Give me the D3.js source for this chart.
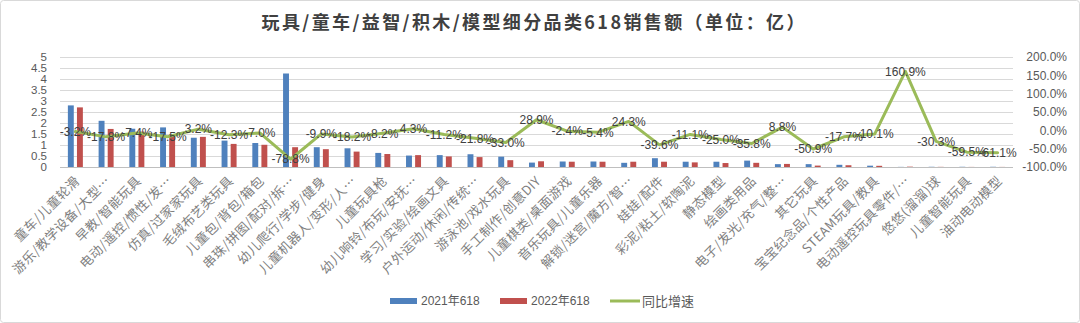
<!DOCTYPE html>
<html>
<head>
<meta charset="utf-8">
<script src="https://cdn.jsdelivr.net/npm/d3@7"></script>
<style>
  html, body { margin: 0; padding: 0; background: #fff; }
  svg { display: block; font-family: "Liberation Sans", "Noto Sans CJK SC", sans-serif; }
</style>
</head>
<body>
<svg id="chart" width="1080" height="323"></svg>
<script>
// Toy sub-category sales during 618 (unit: 100 million)
const categories = [
  "童车/儿童轮滑", "游乐/教学设备/大型…", "早教/智能玩具", "电动/遥控/惯性/发…",
  "仿真/过家家玩具", "毛绒布艺类玩具", "儿童包/背包/箱包", "串珠/拼图/配对/拆…",
  "幼儿爬行/学步/健身", "儿童机器人/变形/人…", "儿童玩具枪", "幼儿响铃/布玩/安抚…",
  "学习/实验/绘画文具", "户外运动/休闲/传统…", "游泳池/戏水玩具", "手工制作/创意DIY",
  "儿童棋类/桌面游戏", "音乐玩具/儿童乐器", "解锁/迷宫/魔方/智…", "娃娃/配件",
  "彩泥/粘土/软陶泥", "静态模型", "绘画类用品", "电子/发光/充气/整…",
  "其它玩具", "宝宝纪念品/个性产品", "STEAM玩具/教具", "电动遥控玩具零件/…",
  "悠悠(溜溜)球", "儿童智能玩具", "油动电动模型"
];
const sales2021 = [
  2.80, 2.10, 1.74, 1.80, 1.33, 1.20, 1.09, 4.25, 0.90, 0.85, 0.64, 0.52, 0.54, 0.58, 0.47, 0.20,
  0.25, 0.25, 0.19, 0.40, 0.24, 0.24, 0.29, 0.13, 0.13, 0.10, 0.06, 0.006, 0.010, 0.010, 0.010
];
const sales2022 = [
  2.71, 1.73, 1.61, 1.49, 1.37, 1.05, 1.01, 0.90, 0.81, 0.70, 0.59, 0.54, 0.48, 0.45, 0.31, 0.26,
  0.24, 0.24, 0.24, 0.24, 0.21, 0.18, 0.19, 0.14, 0.064, 0.08, 0.054, 0.016, 0.007, 0.004, 0.004
];
// Year-over-year growth (fraction)
const growth = [
  -0.032, -0.178, -0.074, -0.175, 0.032, -0.123, -0.070, -0.788, -0.099, -0.182, -0.082, 0.043,
  -0.112, -0.218, -0.330, 0.289, -0.024, -0.054, 0.243, -0.396, -0.111, -0.250, -0.358, 0.088,
  -0.509, -0.177, -0.101, 1.609, -0.303, -0.595, -0.611
];
const salesTicks = [0, 0.5, 1, 1.5, 2, 2.5, 3, 3.5, 4, 4.5, 5];
const growthTicks = [-1, -0.5, 0, 0.5, 1, 1.5, 2];
const seriesNames = ["2021年618", "2022年618", "同比增速"];
const seriesColors = ["#4F81BD", "#C0504D", "#9BBB59"];

const svg = d3.select("#chart");
const W = 1080, H = 323;
const plot = { left: 60, right: 1013, top: 57, bottom: 167 };

// outer frame
svg.append("rect")
  .attr("x", 0.5).attr("y", 0.5).attr("width", W - 1).attr("height", H - 1)
  .attr("rx", 3).attr("fill", "#fff").attr("stroke", "#d9d9d9");

// title
svg.append("text")
  .attr("x", 533).attr("y", 29)
  .attr("text-anchor", "middle")
  .attr("font-size", 18).attr("font-weight", "bold")
  .attr("fill", "#404040")
  .attr("font-family", "'Noto Sans CJK SC', sans-serif")
  .attr("textLength", 543).attr("lengthAdjust", "spacing")
  .text("玩具/童车/益智/积木/模型细分品类618销售额（单位：亿）");

const x = d3.scaleBand().domain(categories).range([plot.left, plot.right]);
const y = d3.scaleLinear().domain([0, 5]).range([plot.bottom, plot.top]);
const y2 = d3.scaleLinear().domain([-1, 2]).range([plot.bottom, plot.top]);
const groupW = 15;
const xSub = d3.scaleBand().domain(seriesNames.slice(0, 2)).range([0, groupW]).paddingInner(0.35);

// gridlines
svg.append("g").selectAll("line").data(salesTicks).join("line")
  .attr("x1", plot.left).attr("x2", plot.right)
  .attr("y1", d => Math.round(y(d)) + 0.5).attr("y2", d => Math.round(y(d)) + 0.5)
  .attr("stroke", (d, i) => i === 0 ? "#bfbfbf" : "#d9d9d9").attr("stroke-width", 1);

// left axis
const leftAxis = svg.append("g")
  .attr("transform", `translate(${plot.left},0)`)
  .call(d3.axisLeft(y).tickValues(salesTicks).tickSize(0).tickPadding(13).tickFormat(d3.format("~g")));
leftAxis.select(".domain").remove();
leftAxis.selectAll("text").attr("font-size", 11.5).attr("fill", "#595959")
  .attr("font-family", "'Liberation Sans', sans-serif");

// right axis
const rightAxis = svg.append("g")
  .attr("transform", `translate(${plot.right},0)`)
  .call(d3.axisRight(y2).tickValues(growthTicks).tickSize(0).tickPadding(54)
    .tickFormat(d => (d * 100).toFixed(1).replace("−", "-") + "%"));
rightAxis.select(".domain").remove();
rightAxis.selectAll("text").attr("font-size", 12).attr("fill", "#595959")
  .attr("text-anchor", "end")
  .attr("font-family", "'Liberation Sans', sans-serif");

// bars
const rows = categories.map((c, i) => ({ c, v: [sales2021[i], sales2022[i]], g: growth[i] }));
const groups = svg.append("g").selectAll("g").data(rows).join("g")
  .attr("transform", d => `translate(${x(d.c) + (x.bandwidth() - groupW) / 2},0)`);
groups.selectAll("rect").data(d => d.v.map((v, k) => ({ k, v }))).join("rect")
  .attr("x", d => xSub(seriesNames[d.k]))
  .attr("width", xSub.bandwidth())
  .attr("y", d => y(d.v))
  .attr("height", d => y(0) - y(d.v))
  .attr("fill", d => seriesColors[d.k]);

// growth line
const cx = d => x(d.c) + x.bandwidth() / 2;
svg.append("path").datum(rows)
  .attr("fill", "none").attr("stroke", seriesColors[2]).attr("stroke-width", 3)
  .attr("stroke-linejoin", "round").attr("stroke-linecap", "round")
  .attr("d", d3.line().x(cx).y(d => y2(d.g)));

// growth labels
svg.append("g").selectAll("text").data(rows).join("text")
  .attr("x", cx).attr("y", d => y2(d.g))
  .attr("dy", "0.35em").attr("text-anchor", "middle")
  .attr("font-size", 12).attr("fill", "#404040")
  .attr("font-family", "'Liberation Sans', sans-serif")
  .text(d => (d.g * 100).toFixed(1) + "%");

// category labels
svg.append("g").selectAll("text").data(rows).join("text")
  .attr("transform", d => `translate(${cx(d) + 2},178.5) rotate(-45)`)
  .attr("dy", "0.35em").attr("text-anchor", "end")
  .attr("font-size", 13).attr("letter-spacing", 0.4)
  .attr("fill", "#7f7f7f")
  .attr("font-family", "'Noto Sans CJK SC', sans-serif")
  .text(d => d.c);

// legend
const legend = svg.append("g").attr("font-size", 12).attr("fill", "#595959");
const legendX = [390, 500, 610];
seriesNames.forEach((name, i) => {
  const g = legend.append("g").attr("transform", `translate(${legendX[i]},301)`);
  if (i < 2) {
    g.append("rect").attr("x", 0).attr("y", -3).attr("width", 27).attr("height", 6).attr("fill", seriesColors[i]);
  } else {
    g.append("line").attr("x1", 0).attr("x2", 30).attr("y1", 0).attr("y2", 0)
      .attr("stroke", seriesColors[i]).attr("stroke-width", 3);
  }
  g.append("text").attr("x", i < 2 ? 31 : 32).attr("dy", "0.35em")
    .attr("fill", "#595959").attr("font-size", i < 2 ? 12 : 13).text(name);
});
</script>
</body>
</html>
